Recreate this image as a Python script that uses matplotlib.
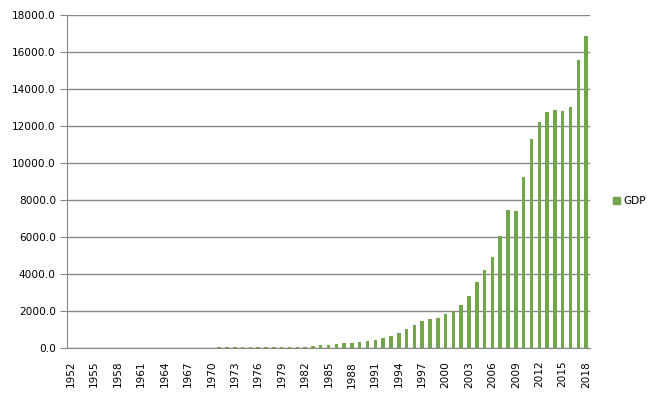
"""GDP by year, Excel-style column chart."""
import matplotlib
matplotlib.use("Agg")
import matplotlib.pyplot as plt
from matplotlib.patches import Patch

years = list(range(1952, 2019))
gdp = [
    0, 0, 0, 0, 0, 0, 0, 0, 0, 0,            # 1952-1961
    0, 0, 0, 0, 0, 0, 0, 0,                  # 1962-1969
    40, 45, 48, 52, 54, 58, 57, 62, 70, 80,  # 1970-1979
    60, 65, 80, 108, 170, 200, 230, 260, 310, 360,  # 1980-1989
    400, 450, 530, 680, 850, 1040, 1260, 1480, 1580, 1640,  # 1990-1999
    1850, 2020, 2340, 2830, 3580, 4230, 4930, 6070, 7470, 7420,  # 2000-2009
    9250, 11300, 12200, 12740, 12870, 12820, 13030, 15560, 16860,  # 2010-2018
]
series_name = "GDP"
yticks = [0, 2000, 4000, 6000, 8000, 10000, 12000, 14000, 16000, 18000]

bar_color = "#71A74A"
grid_color = "#878787"

fig = plt.figure(figsize=(6.51, 3.96), dpi=100)
ax = fig.add_axes([67 / 651, 1 - 348.3 / 396, 523 / 651, 333.6 / 396])

x = list(range(len(years)))
ax.bar(x, gdp, width=0.45, color=bar_color, zorder=3)

ax.set_xlim(-0.5, len(years) - 0.5)
ax.set_ylim(0, 18000)
ax.set_yticks(yticks)
ax.set_yticklabels([f"{v:.1f}" for v in yticks], fontsize=7.6)
ax.set_xticks(x[::3])
ax.set_xticklabels([str(y) for y in years[::3]], rotation=90, fontsize=7.6)

ax.yaxis.grid(True, color=grid_color, linewidth=1, zorder=0)
for side in ("top", "right"):
    ax.spines[side].set_visible(False)
for side in ("left", "bottom"):
    ax.spines[side].set_color(grid_color)
ax.tick_params(axis="y", length=5, color=grid_color, pad=3)
ax.tick_params(axis="x", length=0, pad=9)

fig.legend(handles=[Patch(color=bar_color, label=series_name)],
           loc="center left", bbox_to_anchor=(603 / 651, 1 - 201 / 396),
           frameon=False, fontsize=7.6, handlelength=0.7, handleheight=0.7,
           handletextpad=0.3)

fig.savefig("out.png", dpi=100)
